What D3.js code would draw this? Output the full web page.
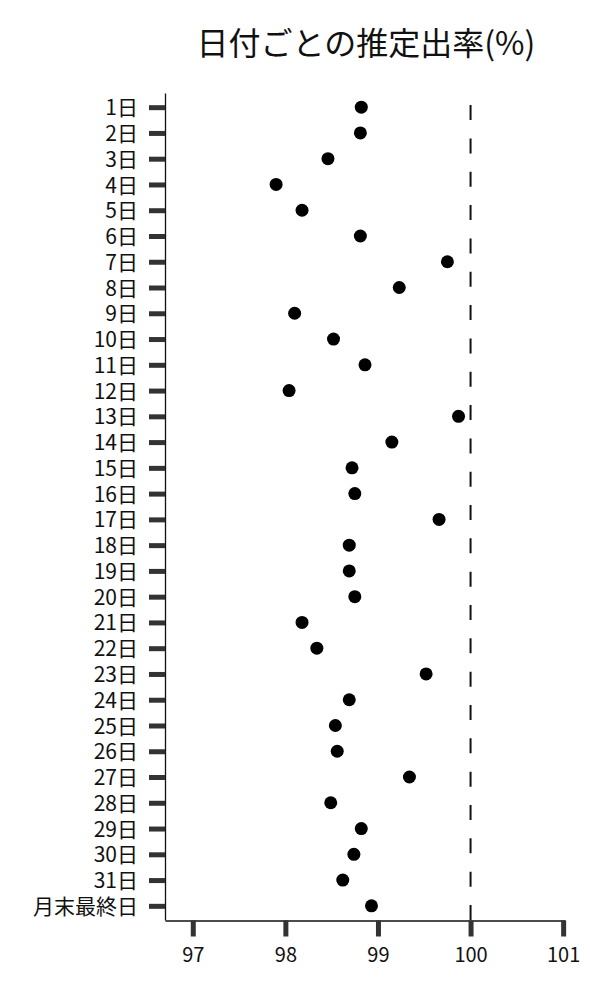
<!DOCTYPE html>
<html>
<head>
<meta charset="utf-8">
<script src="https://cdn.jsdelivr.net/npm/d3@7"></script>
<style>
  body { margin: 0; background: #fff; }
  svg { display: block; font-family: "Noto Sans CJK JP", "Noto Sans", sans-serif; }
</style>
</head>
<body>
<div id="chart"></div>
<script>
const width = 600, height = 1000;

// 日付ごとのラベルと推定出率(%)
const days = ["1日", "2日", "3日", "4日", "5日", "6日", "7日", "8日", "9日", "10日",
  "11日", "12日", "13日", "14日", "15日", "16日", "17日", "18日", "19日", "20日",
  "21日", "22日", "23日", "24日", "25日", "26日", "27日", "28日", "29日", "30日",
  "31日", "月末最終日"];
const rates = [98.82, 98.81, 98.46, 97.90, 98.18, 98.81, 99.75, 99.23, 98.10, 98.52,
  98.86, 98.04, 99.87, 99.15, 98.72, 98.75, 99.66, 98.69, 98.69, 98.75,
  98.18, 98.34, 99.52, 98.69, 98.54, 98.56, 99.34, 98.49, 98.82, 98.74,
  98.62, 98.93];
const xTicks = [97, 98, 99, 100, 101];
const refValue = 100;
const title = "日付ごとの推定出率(%)";

const svg = d3.select("#chart").append("svg")
  .attr("width", width)
  .attr("height", height);

const x = d3.scaleLinear().domain([96.7, 101.02]).range([165, 565]);
const y = d3.scalePoint().domain(days).range([93, 920]).padding(0.55);

// reference line at 100 (drawn bottom-up so the dash pattern starts at the axis)
svg.append("line")
  .attr("x1", x(refValue)).attr("x2", x(refValue))
  .attr("y1", 920).attr("y2", 93)
  .attr("stroke", "#111")
  .attr("stroke-width", 2)
  .attr("stroke-dasharray", "15 18.33");

// axes
const yAxis = svg.append("g")
  .attr("transform", "translate(165,0)")
  .call(d3.axisLeft(y).tickSize(16).tickSizeOuter(0).tickPadding(11));

const xAxis = svg.append("g")
  .attr("transform", "translate(0,920.5)")
  .call(d3.axisBottom(x).tickValues(xTicks).tickFormat(d3.format("d"))
    .tickSize(16).tickSizeOuter(0).tickPadding(11));

[yAxis, xAxis].forEach(g => {
  g.select(".domain").attr("stroke", "#111").attr("stroke-width", 1.3);
  g.selectAll(".tick line").attr("stroke", "#333").attr("stroke-width", 5);
  g.selectAll(".tick text")
    .attr("fill", "#111")
    .style("font-size", "20px")
    .style("font-family", '"Noto Sans CJK JP", sans-serif');
});
yAxis.selectAll(".tick text").style("font-size", "21px").attr("dy", "0.36em");

// dots
svg.selectAll("circle.dot")
  .data(days.map((d, i) => ({ day: d, rate: rates[i] })))
  .enter()
  .append("circle")
  .attr("class", "dot")
  .attr("cx", d => x(d.rate))
  .attr("cy", d => y(d.day))
  .attr("r", 6.5)
  .attr("fill", "#000");

// title
svg.append("text")
  .attr("x", 366)
  .attr("y", 55)
  .attr("text-anchor", "middle")
  .style("font-size", "32px")
  .attr("fill", "#111")
  .text(title);
</script>
</body>
</html>
